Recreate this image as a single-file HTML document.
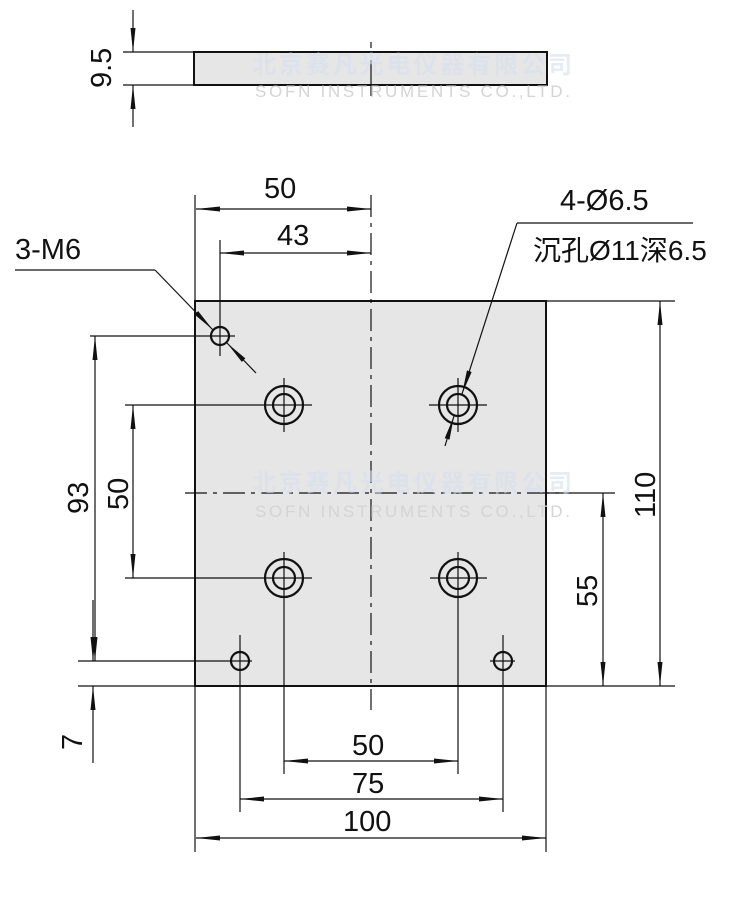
<!DOCTYPE html>
<html><head><meta charset="utf-8"><style>html,body{margin:0;padding:0;background:#fff}svg{display:block}</style></head>
<body>
<svg width="750" height="899" viewBox="0 0 750 899" xmlns="http://www.w3.org/2000/svg" font-family="Liberation Sans, Noto Sans CJK SC, sans-serif">
<defs>
<marker id="b" viewBox="0 0 24 6" refX="24" refY="3" markerWidth="24" markerHeight="6" markerUnits="userSpaceOnUse" orient="auto-start-reverse"><path d="M0,0.5L24,3L0,5.5Z" fill="#111"/></marker>
</defs>
<g stroke="#111" stroke-width="1.2" fill="none">
<rect x="194" y="52" width="353" height="33" fill="#e6e6e6" stroke-width="2"/>
<line x1="371" y1="42" x2="371" y2="48"/><line x1="371" y1="60" x2="371" y2="96"/>
<line x1="123" y1="52" x2="194" y2="52"/><line x1="123" y1="85" x2="194" y2="85"/>
<line x1="133" y1="10" x2="133" y2="52" marker-end="url(#b)"/>
<line x1="133" y1="127" x2="133" y2="85" marker-end="url(#b)"/>
<rect x="195" y="301" width="351" height="385" fill="#e6e6e6" stroke-width="2"/>
<line x1="371" y1="195" x2="371" y2="710" stroke-dasharray="22,6,4,6"/>
<line x1="185" y1="493" x2="560" y2="493" stroke-dasharray="22,6,4,6"/>
<g stroke-width="2.2">
<circle cx="284" cy="405" r="19"/><circle cx="284" cy="405" r="11"/>
<circle cx="458" cy="405" r="19"/><circle cx="458" cy="405" r="11"/>
<circle cx="284" cy="578" r="19"/><circle cx="284" cy="578" r="11"/>
<circle cx="458" cy="578" r="19"/><circle cx="458" cy="578" r="11"/>
<circle cx="220" cy="336" r="9"/><circle cx="240" cy="661" r="9"/><circle cx="503" cy="661" r="9"/>
</g>
<line x1="264" y1="405" x2="312" y2="405"/><line x1="284" y1="378" x2="284" y2="432"/>
<line x1="429" y1="405" x2="487" y2="405"/><line x1="458" y1="378" x2="458" y2="432"/>
<line x1="258" y1="578" x2="312" y2="578"/><line x1="284" y1="552" x2="284" y2="774"/>
<line x1="430" y1="578" x2="487" y2="578"/><line x1="458" y1="552" x2="458" y2="774"/>
<line x1="220" y1="240" x2="220" y2="356"/><line x1="90" y1="336" x2="235" y2="336"/>
<line x1="240" y1="635" x2="240" y2="812"/><line x1="78" y1="661" x2="252" y2="661"/>
<line x1="503" y1="635" x2="503" y2="812"/><line x1="490" y1="661" x2="515" y2="661"/>
<line x1="125" y1="405" x2="264" y2="405"/><line x1="125" y1="578" x2="258" y2="578"/>
<line x1="195" y1="195" x2="195" y2="301"/>
<line x1="196" y1="209" x2="371" y2="209" marker-start="url(#b)" marker-end="url(#b)"/>
<line x1="220" y1="253" x2="371" y2="253" marker-start="url(#b)" marker-end="url(#b)"/>
<line x1="15" y1="270" x2="155" y2="270"/>
<line x1="155" y1="270" x2="213" y2="330" marker-end="url(#b)"/>
<line x1="256" y1="373" x2="227" y2="343" marker-end="url(#b)"/>
<line x1="517" y1="223" x2="693" y2="223"/>
<line x1="517" y1="223" x2="462" y2="394" marker-end="url(#b)"/>
<line x1="445" y1="446" x2="454" y2="416" marker-end="url(#b)"/>
<line x1="95" y1="336" x2="95" y2="661" marker-start="url(#b)" marker-end="url(#b)"/>
<line x1="133" y1="405" x2="133" y2="578" marker-start="url(#b)" marker-end="url(#b)"/>
<line x1="78" y1="686" x2="195" y2="686"/>
<line x1="93" y1="600" x2="93" y2="661" marker-end="url(#b)"/>
<line x1="93" y1="763" x2="93" y2="686" marker-end="url(#b)"/>
<line x1="546" y1="301" x2="675" y2="301"/>
<line x1="546" y1="686" x2="675" y2="686"/>
<line x1="546" y1="493" x2="615" y2="493"/>
<line x1="660" y1="301" x2="660" y2="686" marker-start="url(#b)" marker-end="url(#b)"/>
<line x1="603" y1="493" x2="603" y2="686" marker-start="url(#b)" marker-end="url(#b)"/>
<line x1="195" y1="686" x2="195" y2="852"/><line x1="546" y1="686" x2="546" y2="852"/>
<line x1="284" y1="761" x2="458" y2="761" marker-start="url(#b)" marker-end="url(#b)"/>
<line x1="240" y1="799" x2="503" y2="799" marker-start="url(#b)" marker-end="url(#b)"/>
<line x1="196" y1="838" x2="546" y2="838" marker-start="url(#b)" marker-end="url(#b)"/>
</g>
<g fill="#d6deee" opacity="0.6" font-size="24" font-weight="bold">
<text x="252" y="73" textLength="320">北京赛凡光电仪器有限公司</text>
<text x="252" y="491" textLength="320">北京赛凡光电仪器有限公司</text>
</g>
<g fill="#d4d4d4" font-size="17">
<text x="255" y="97" textLength="315">SOFN INSTRUMENTS CO.,LTD.</text>
<text x="255" y="517" textLength="315">SOFN INSTRUMENTS CO.,LTD.</text>
</g>
<g fill="#111" font-size="29">
<text x="264" y="198">50</text>
<text x="277" y="245">43</text>
<text x="15" y="259">3-M6</text>
<text x="560" y="210">4-Ø6.5</text>
<text x="533" y="260" font-size="28">沉孔Ø11深6.5</text>
<text x="352" y="755">50</text>
<text x="352" y="793">75</text>
<text x="343" y="831">100</text>
<text transform="translate(111,88) rotate(-90)">9.5</text>
<text transform="translate(88,514) rotate(-90)">93</text>
<text transform="translate(128,510) rotate(-90)">50</text>
<text transform="translate(82,750) rotate(-90)">7</text>
<text transform="translate(655,518) rotate(-90)">110</text>
<text transform="translate(597,607) rotate(-90)">55</text>
</g>
</svg>
</body></html>
